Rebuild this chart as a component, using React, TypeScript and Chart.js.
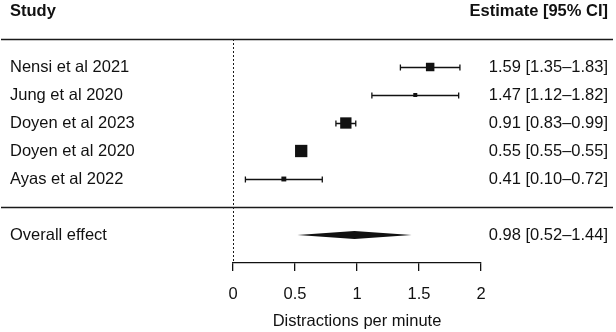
import React, { useEffect, useRef } from "react";
import { Chart, registerables } from "chart.js";

Chart.register(...registerables);

const studies = ["Nensi et al 2021", "Jung et al 2020", "Doyen et al 2023", "Doyen et al 2020", "Ayas et al 2022"];
const estimates = [1.59, 1.47, 0.91, 0.55, 0.41];
const lower = [1.35, 1.12, 0.83, 0.55, 0.1];
const upper = [1.83, 1.82, 0.99, 0.55, 0.72];
const weights = [18, 4, 32, 38, 6];
const overallLabel = "Overall effect";
const overallEstimate = 0.98;
const overallLower = 0.52;
const overallUpper = 1.44;
const xTicks = [0, 0.5, 1, 1.5, 2];
const headerLeft = "Study";
const headerRight = "Estimate [95% CI]";
const xTitle = "Distractions per minute";

const FONT = "'Liberation Sans', Arial, Helvetica, sans-serif";
const INK = "#111111";
const FS = 16.5;

const fmt = (v: number) => v.toFixed(2);

const forestPlugin = {
  id: "forest",
  beforeDatasetsDraw(chart: any) {
    const { ctx, scales } = chart;
    const x = scales.x;
    const y = scales.y;
    ctx.save();
    // horizontal rules
    ctx.strokeStyle = "#1a1a1a";
    ctx.lineWidth = 1.4;
    for (const v of [0, 6]) {
      const py = Math.round(y.getPixelForValue(v)) + 0.5;
      ctx.beginPath();
      ctx.moveTo(1, py);
      ctx.lineTo(613, py);
      ctx.stroke();
    }
    // dotted null line
    ctx.setLineDash([2, 2]);
    ctx.lineWidth = 1;
    const px0 = Math.round(x.getPixelForValue(0)) + 0.5;
    ctx.beginPath();
    ctx.moveTo(px0, y.getPixelForValue(0));
    ctx.lineTo(px0, y.getPixelForValue(8));
    ctx.stroke();
    ctx.setLineDash([]);

    // error bars
    ctx.strokeStyle = INK;
    ctx.lineWidth = 1.3;
    studies.forEach((_, i) => {
      const py = Math.round(y.getPixelForValue(i + 1)) + 0.5;
      const xl = x.getPixelForValue(lower[i]);
      const xu = x.getPixelForValue(upper[i]);
      ctx.beginPath();
      ctx.moveTo(xl, py);
      ctx.lineTo(xu, py);
      ctx.moveTo(xl, py - 3);
      ctx.lineTo(xl, py + 3);
      ctx.moveTo(xu, py - 3);
      ctx.lineTo(xu, py + 3);
      ctx.stroke();
    });

    // diamond
    const dy = y.getPixelForValue(7);
    ctx.fillStyle = INK;
    ctx.beginPath();
    ctx.moveTo(x.getPixelForValue(overallLower), dy);
    ctx.lineTo(x.getPixelForValue(overallEstimate), dy - 4);
    ctx.lineTo(x.getPixelForValue(overallUpper), dy);
    ctx.lineTo(x.getPixelForValue(overallEstimate), dy + 4);
    ctx.closePath();
    ctx.fill();

    // texts
    ctx.fillStyle = INK;
    ctx.textBaseline = "middle";
    ctx.font = `bold ${FS}px ${FONT}`;
    ctx.textAlign = "left";
    ctx.fillText(headerLeft, 10, y.getPixelForValue(-1));
    ctx.textAlign = "right";
    ctx.fillText(headerRight, 608, y.getPixelForValue(-1));

    ctx.font = `${FS}px ${FONT}`;
    studies.forEach((s, i) => {
      const py = y.getPixelForValue(i + 1);
      ctx.textAlign = "left";
      ctx.fillText(s, 10, py);
      ctx.textAlign = "right";
      ctx.fillText(`${fmt(estimates[i])} [${fmt(lower[i])}\u2013${fmt(upper[i])}]`, 608, py);
    });
    ctx.textAlign = "left";
    ctx.fillText(overallLabel, 10, dy);
    ctx.textAlign = "right";
    ctx.fillText(`${fmt(overallEstimate)} [${fmt(overallLower)}\u2013${fmt(overallUpper)}]`, 608, dy);
    ctx.restore();
  },
};

export default function App() {
  const ref = useRef<HTMLCanvasElement | null>(null);
  useEffect(() => {
    if (!ref.current) return;
    Chart.defaults.font.family = FONT;
    const radii = weights.map((w) => (Math.sqrt(w) * 2) / Math.SQRT2);
    const chart = new Chart(ref.current, {
      type: "scatter",
      data: {
        datasets: [
          {
            data: estimates.map((e, i) => ({ x: e, y: i + 1 })),
            pointStyle: "rect",
            pointRadius: radii,
            pointHoverRadius: radii,
            backgroundColor: INK,
            borderWidth: 0,
          },
        ],
      },
      options: {
        animation: false,
        responsive: false,
        maintainAspectRatio: false,
        events: [],
        layout: { padding: { left: 233, right: 135, top: 39, bottom: 0 } },
        plugins: { legend: { display: false }, tooltip: { enabled: false } },
        scales: {
          x: {
            type: "linear",
            min: 0,
            max: 2,
            afterBuildTicks: (s: any) => {
              s.ticks = xTicks.map((v) => ({ value: v }));
            },
            afterFit: (s: any) => {
              s.height = 69;
            },
            ticks: {
              font: { size: FS, family: FONT },
              color: INK,
              padding: 14,
              maxRotation: 0,
              callback: (v: any) => String(v),
            },
            grid: { drawOnChartArea: false, drawTicks: true, tickLength: 8, color: INK, lineWidth: 1.3 },
            border: { display: true, color: INK, width: 1.3 },
            title: {
              display: true,
              text: xTitle,
              color: INK,
              font: { size: FS, family: FONT, lineHeight: 1 },
              padding: { top: 0, bottom: 2 },
            },
          },
          y: { type: "linear", min: 0, max: 8, reverse: true, display: false },
        },
      },
      plugins: [forestPlugin],
    } as any);
    return () => chart.destroy();
  }, []);
  return (
    <div style={{ position: "fixed", left: 0, top: 0, width: 616, height: 332, background: "#fff" }}>
      <canvas ref={ref} width={616} height={332} style={{ width: 616, height: 332 }} />
    </div>
  );
}
